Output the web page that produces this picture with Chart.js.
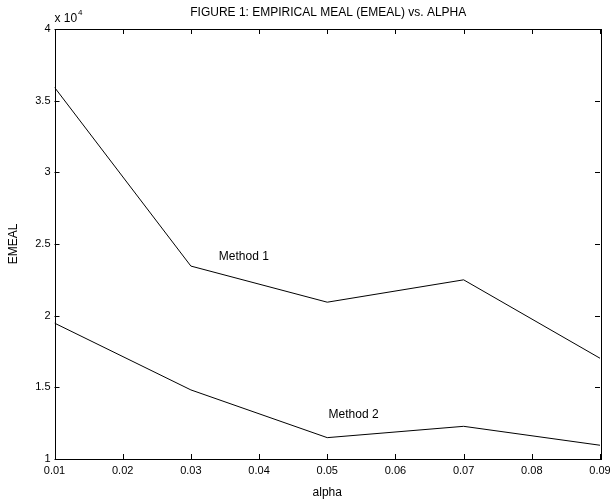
<!DOCTYPE html>
<html>
<head>
<meta charset="utf-8">
<script src="https://cdn.jsdelivr.net/npm/chart.js@4"></script>
<style>
  html, body { margin: 0; padding: 0; background: #fff; }
  #wrap { width: 610px; height: 500px; position: relative; }
</style>
</head>
<body>
<div id="wrap"><canvas id="c" width="610" height="500"></canvas></div>
<script>
// ---- data ----
const alphaValues = [0.01, 0.03, 0.05, 0.07, 0.09];
const method1 = [35930, 23460, 20940, 22500, 17030];
const method2 = [19480, 14820, 11490, 12280, 10960];
const xTicks = [0.01, 0.02, 0.03, 0.04, 0.05, 0.06, 0.07, 0.08, 0.09];
const yTicks = [10000, 15000, 20000, 25000, 30000, 35000, 40000];
const seriesNames = ['Method 1', 'Method 2'];
const labelAnchorsX = [0.0341, 0.0502];
const labelAnchorsY = [24100, 13070];
const titleText = 'FIGURE 1: EMPIRICAL MEAL (EMEAL) vs. ALPHA';
const xTitle = 'alpha';
const yTitle = 'EMEAL';

const FONT = '"Liberation Sans", Arial, Helvetica, sans-serif';

const toXY = (xs, ys) => xs.map((x, i) => ({ x: x, y: ys[i] }));

const decorPlugin = {
  id: 'decor',
  afterDraw(chart) {
    const ctx = chart.ctx;
    const a = chart.chartArea;
    const xs = chart.scales.x, ys = chart.scales.y;
    ctx.save();
    // box
    ctx.strokeStyle = '#000';
    ctx.lineWidth = 1;
    ctx.strokeRect(Math.round(a.left) + 0.5, Math.round(a.top) + 0.5,
                   Math.round(a.right - a.left), Math.round(a.bottom - a.top));
    // inward ticks
    const tl = 5;
    ctx.beginPath();
    xTicks.forEach(v => {
      const px = Math.round(xs.getPixelForValue(v)) + 0.5;
      ctx.moveTo(px, a.bottom); ctx.lineTo(px, a.bottom - tl);
      ctx.moveTo(px, a.top); ctx.lineTo(px, a.top + tl);
    });
    yTicks.forEach(v => {
      const py = Math.round(ys.getPixelForValue(v)) + 0.5;
      ctx.moveTo(a.left, py); ctx.lineTo(a.left + tl, py);
      ctx.moveTo(a.right, py); ctx.lineTo(a.right - tl, py);
    });
    ctx.stroke();

    ctx.fillStyle = '#000';
    // title
    ctx.font = '12px ' + FONT;
    ctx.textAlign = 'center';
    ctx.textBaseline = 'middle';
    ctx.fillText(titleText, (a.left + a.right) / 2 + 1, 13);
    // x axis title
    ctx.fillText(xTitle, (a.left + a.right) / 2, 493);
    // y axis title
    ctx.save();
    ctx.translate(14, (a.top + a.bottom) / 2);
    ctx.rotate(-Math.PI / 2);
    ctx.fillText(yTitle, 0, 0);
    ctx.restore();
    // exponent label
    ctx.textAlign = 'left';
    ctx.fillText('x 10', a.left, 19);
    ctx.font = '8px ' + FONT;
    ctx.fillText('4', a.left + 23.5, 13);
    // series labels
    ctx.font = '12px ' + FONT;
    seriesNames.forEach((n, i) => {
      ctx.fillText(n, xs.getPixelForValue(labelAnchorsX[i]), ys.getPixelForValue(labelAnchorsY[i]));
    });
    ctx.restore();
  }
};

new Chart(document.getElementById('c'), {
  type: 'line',
  data: {
    datasets: [
      { label: seriesNames[0], data: toXY(alphaValues, method1), borderColor: '#000', borderWidth: 1, pointRadius: 0, tension: 0, fill: false },
      { label: seriesNames[1], data: toXY(alphaValues, method2), borderColor: '#000', borderWidth: 1, pointRadius: 0, tension: 0, fill: false }
    ]
  },
  options: {
    responsive: false,
    animation: false,
    devicePixelRatio: 1,
    layout: { padding: { left: 0, right: 10, top: 29, bottom: 0 } },
    plugins: { legend: { display: false }, title: { display: false }, tooltip: { enabled: false } },
    scales: {
      x: {
        type: 'linear', min: 0.01, max: 0.09,
        afterFit: s => { s.height = 41; s.paddingLeft = 0; s.paddingRight = 0; },
        afterBuildTicks: s => { s.ticks = xTicks.map(v => ({ value: v })); },
        grid: { display: false, drawTicks: false },
        border: { display: false },
        ticks: { color: '#000', font: { family: FONT, size: 11 }, padding: 5, maxRotation: 0, autoSkip: false,
                 callback: v => v.toFixed(2) }
      },
      y: {
        type: 'linear', min: 10000, max: 40000,
        afterFit: s => { s.width = 54.5; s.paddingTop = 0; s.paddingBottom = 0; },
        afterBuildTicks: s => { s.ticks = yTicks.map(v => ({ value: v })); },
        grid: { display: false, drawTicks: false },
        border: { display: false },
        ticks: { color: '#000', font: { family: FONT, size: 11 }, padding: 4, autoSkip: false,
                 callback: v => String(v / 10000) }
      }
    }
  },
  plugins: [decorPlugin]
});
</script>
</body>
</html>
